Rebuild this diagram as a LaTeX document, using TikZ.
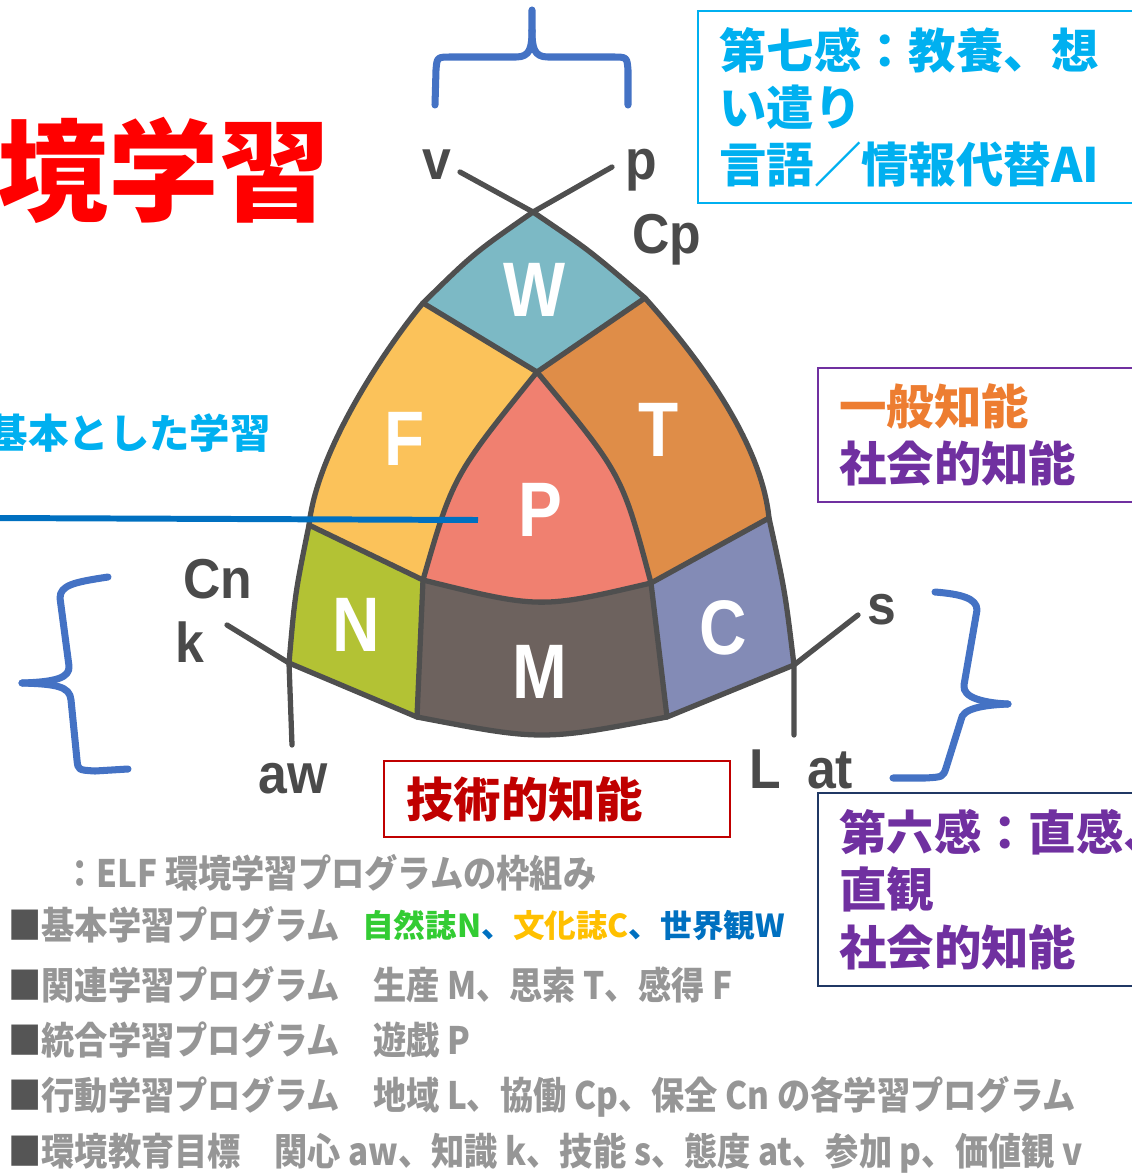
\documentclass[tikz,border=0pt]{standalone}
\usepackage{fontspec}
\newfontfamily\jpfont{Noto Sans CJK JP}
\newfontfamily\jpnarrow{Noto Sans CJK JP}[FakeStretch=0.88]
\newfontfamily\letterfont{Liberation Sans}[FakeStretch=0.85]
\newfontfamily\goalfont{Liberation Sans}[FakeStretch=0.92]

\definecolor{fillW}{HTML}{7CB9C5}
\definecolor{fillF}{HTML}{FBC25A}
\definecolor{fillT}{HTML}{DF8D48}
\definecolor{fillP}{HTML}{F08070}
\definecolor{fillN}{HTML}{B3C234}
\definecolor{fillM}{HTML}{6D625E}
\definecolor{fillC}{HTML}{838BB6}
\definecolor{linegray}{HTML}{4F4F4F}
\definecolor{labgray}{HTML}{4A4A4A}
\definecolor{textgray}{HTML}{969696}
\definecolor{squaregray}{HTML}{555555}
\definecolor{braceblue}{HTML}{4472C4}
\definecolor{lineblue}{HTML}{0070C0}
\definecolor{cyantext}{HTML}{00B0F0}
\definecolor{orangetext}{HTML}{ED7D31}
\definecolor{purpletext}{HTML}{7030A0}
\definecolor{darkred}{HTML}{C00000}
\definecolor{navyline}{HTML}{203864}
\definecolor{titlered}{HTML}{FF0000}
\definecolor{natgreen}{HTML}{33CC33}
\definecolor{culyellow}{HTML}{FFC000}

\begin{document}
\begin{tikzpicture}[x=0.02cm,y=-0.02cm,
% The lines of the shape:
edge line/.style={draw=linegray,line width=3pt,line cap=round,line join=round},
% Letters inside the pieces
letter/.style={text=white,font=\letterfont\bfseries\fontsize{44pt}{44pt}\selectfont},
% Letters round the shape
goal/.style={text=labgray,font=\goalfont\bfseries\fontsize{32pt}{32pt}\selectfont},
brace/.style={draw=braceblue,line width=4pt,line cap=round,line join=round},
% The framed texts
infobox/.style={draw,line width=1.3pt,anchor=north west,align=left,inner xsep=0.42cm,
	font=\jpfont\bfseries\fontsize{27pt}{32.6pt}\selectfont},
% The grey lines at the bottom
graytext/.style={anchor=west,inner sep=0pt,text=textgray,
	font=\jpnarrow\bfseries\fontsize{21.5pt}{21.5pt}\selectfont}]

\useasboundingbox (0,0) rectangle (1132,1174);

% corners of the pieces
\coordinate (A) at (533,212);
\coordinate (WL) at (423,303);
\coordinate (WR) at (645,298);
\coordinate (WB) at (537,372);
\coordinate (FN) at (309,525);
\coordinate (NP) at (423,580);
\coordinate (PT) at (651,583);
\coordinate (TC) at (769,518);
\coordinate (BL) at (289,663);
\coordinate (BR) at (794,665);
\coordinate (NMb) at (417,717);
\coordinate (MCb) at (667,717);
% free ends of the lines
\coordinate (V0) at (460,172);
\coordinate (P0) at (612,167);
\coordinate (K0) at (227,625);
\coordinate (S0) at (858,615);
\coordinate (EL) at (292,745);
\coordinate (ER) at (794,735);
% control points
\coordinate (cAWL) at (474,253);
\coordinate (cWLa) at (392,340);
\coordinate (cWLb) at (318,445);
\coordinate (cFNBL) at (295,594);
\coordinate (cAWR) at (589,250);
\coordinate (cWRa) at (678,335);
\coordinate (cWRb) at (760,430);
\coordinate (cTCBR) at (785,591);
\coordinate (cWBPT) at (622,474);
\coordinate (cWBNP) at (453,476);
\coordinate (cNPPT) at (540,609);
\coordinate (cNMMC) at (542,741);

% pieces
\fill[fillW] (A) .. controls (cAWR) .. (WR) -- (WB) -- (WL) .. controls (cAWL) .. (A) -- cycle;
\fill[fillF] (WL) -- (WB) .. controls (cWBNP) .. (NP) -- (FN) .. controls (cWLb) and (cWLa) .. (WL) -- cycle;
\fill[fillT] (WR) .. controls (cWRa) and (cWRb) .. (TC) -- (PT) .. controls (cWBPT) .. (WB) -- cycle;
\fill[fillP] (WB) .. controls (cWBPT) .. (PT) .. controls (cNPPT) .. (NP) .. controls (cWBNP) .. (WB) -- cycle;
\fill[fillN] (FN) -- (NP) -- (NMb) -- (BL) .. controls (cFNBL) .. (FN) -- cycle;
\fill[fillM] (NP) .. controls (cNPPT) .. (PT) -- (MCb) .. controls (cNMMC) .. (NMb) -- cycle;
\fill[fillC] (PT) -- (TC) .. controls (cTCBR) .. (BR) -- (MCb) -- cycle;

% lines
\draw[edge line] (V0) -- (A) .. controls (cAWR) .. (WR) .. controls (cWRa) and (cWRb) .. (TC)
	.. controls (cTCBR) .. (BR) -- (ER);
\draw[edge line] (P0) -- (A) .. controls (cAWL) .. (WL) .. controls (cWLa) and (cWLb) .. (FN)
	.. controls (cFNBL) .. (BL) -- (EL);
\draw[edge line] (WL) -- (WB) .. controls (cWBPT) .. (PT) -- (MCb);
\draw[edge line] (WR) -- (WB) .. controls (cWBNP) .. (NP) -- (NMb);
\draw[edge line] (FN) -- (NP) .. controls (cNPPT) .. (PT) -- (TC);
\draw[edge line] (K0) -- (BL) -- (NMb) .. controls (cNMMC) .. (MCb) -- (BR) -- (S0);

% letters of the pieces
\node (W) [letter] at (535,290) {W};
\node (F) [letter] at (405,439) {F};
\node (T) [letter] at (659,430) {T};
\node (P) [letter] at (540,510) {P};
\node (N) [letter] at (356,625) {N};
\node (M) [letter] at (540,672) {M};
\node (C) [letter] at (723,628) {C};

% goals round the shape
\node (v) [goal] at (437,165) {v};
\node (p) [goal] at (641,170) {p};
\node (Cp) [goal] at (667,240) {Cp};
\node (Cn) [goal] at (218,579) {Cn};
\node (k) [goal] at (190,642) {k};
\node (aw) [goal] at (293,779) {aw};
\node (L) [goal] at (765,769) {L};
\node (at) [goal] at (830,770) {at};
\node (s) [goal] at (882,610) {s};

% braces
\draw[brace] (435,105) -- (436,70) .. controls (437,57) .. (452,57) -- (516,57)
	.. controls (530,57) and (532,48) .. (532,30) -- (532,10);
\draw[brace] (532,30) .. controls (532,48) and (534,57) .. (548,57) -- (612,57)
	.. controls (627,57) .. (628,70) -- (628,105);
\draw[brace] (108,577) .. controls (75,582) and (60,585) .. (60,598) -- (69,666)
	.. controls (70,678) and (55,682) .. (22,683);
\draw[brace] (22,683) .. controls (55,684) and (70,686) .. (71,700) -- (77,760)
	.. controls (78,770) .. (95,771) -- (128,769);
\draw[brace] (935,592) .. controls (960,594) and (977,598) .. (977,610) -- (964,685)
	.. controls (962,698) and (985,703) .. (1008,704);
\draw[brace] (1008,704) .. controls (985,705) and (962,708) .. (961,720) -- (946,768)
	.. controls (943,777) .. (925,778) -- (893,778);

% title and pointer
\node (title) [anchor=east,text=titlered,font=\jpfont\bfseries\fontsize{63pt}{63pt}\selectfont]
	at (336,170) {環境学習};
\node (basis) [anchor=east,text=cyantext,font=\jpfont\bfseries\fontsize{23pt}{23pt}\selectfont]
	at (277,433) {基本とした学習};
\coordinate (lineL) at (-5,518);
\coordinate (lineR) at (478,520);
\draw[lineblue,line width=3.4pt] (lineL) -- (lineR);

% framed texts
\node (seventh) [infobox,draw=cyantext,text=cyantext,text width=8.36cm,minimum height=3.84cm]
	at (697,10) {第七感：教養、想\\い遣り\\言語／情報代替AI};
\node (general) [infobox,draw=purpletext,text=purpletext,text width=5.96cm,minimum height=2.68cm]
	at (817,367) {\textcolor{orangetext}{一般知能}\\社会的知能};
\node (sixth) [infobox,draw=navyline,text=purpletext,text width=6.8cm,minimum height=3.86cm]
	at (817,792) {第六感：直感、\\直観\\社会的知能};
\node (tech) [infobox,draw=darkred,text=darkred,text width=6.04cm,inner xsep=0.44cm,
	minimum height=1.52cm] at (383,760) {技術的知能};

% grey lines at the bottom
\node (line1) [graytext] at (63,873) {：ELF 環境学習プログラムの枠組み};
\node (line2) [graytext] at (8,925) {\textcolor{squaregray}{■}基本学習プログラム};
\node (line2b) [anchor=west,inner sep=0pt,font=\jpfont\bfseries\fontsize{18pt}{18pt}\selectfont]
	at (362,925) {\textcolor{natgreen}{自然誌N}\textcolor{lineblue}{、}\textcolor{culyellow}{文化誌C}\textcolor{lineblue}{、}\textcolor{lineblue}{世界観W}};
\node (line3) [graytext] at (8,985) {\textcolor{squaregray}{■}関連学習プログラム　生産 M、思索 T、感得 F};
\node (line4) [graytext] at (8,1040) {\textcolor{squaregray}{■}統合学習プログラム　遊戯 P};
\node (line5) [graytext] at (8,1097) {\textcolor{squaregray}{■}行動学習プログラム　地域 L、協働 Cp、保全 Cn の各学習プログラム};
\node (line6) [graytext] at (8,1153) {\textcolor{squaregray}{■}環境教育目標　関心 aw、知識 k、技能 s、態度 at、参加 p、価値観 v};

\end{tikzpicture}
\end{document}
